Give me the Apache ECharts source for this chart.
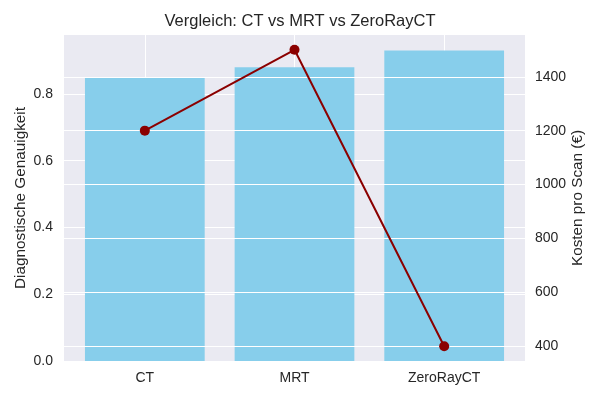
<!DOCTYPE html>
<html><head><meta charset="utf-8">
<script src="https://cdn.jsdelivr.net/npm/echarts@6/dist/echarts.min.js"></script>
<style>html,body{margin:0;padding:0;background:#fff}#c{width:600px;height:400px}</style>
</head><body><div id="c"></div>
<script>
const categories = ['CT', 'MRT', 'ZeroRayCT'];
const accuracy = [0.85, 0.88, 0.93];
const cost = [1200, 1500, 400];
const accTicks = [0, 0.2, 0.4, 0.6, 0.8];
const costTicks = [400, 600, 800, 1000, 1200, 1400];
const catTicks = [0, 1, 2];

const FONT = 'Liberation Sans';
const TXT = '#262626';
const chart = echarts.init(document.getElementById('c'), null, {renderer: 'canvas'});
chart.setOption({
  animation: false,
  backgroundColor: '#ffffff',
  title: {
    text: 'Vergleich: CT vs MRT vs ZeroRayCT',
    left: 'center', top: 8,
    textStyle: {fontFamily: FONT, fontSize: 16.5, fontWeight: 'normal', color: TXT}
  },
  grid: {left: 64, right: 75, top: 35, bottom: 39, show: true, backgroundColor: '#EAEAF2', borderWidth: 0},
  xAxis: {
    type: 'value', min: -0.54, max: 2.54,
    axisLine: {show: false},
    axisTick: {show: false, customValues: catTicks},
    axisLabel: {customValues: catTicks, margin: 10, fontFamily: FONT, fontSize: 14, color: TXT,
      formatter: v => categories[Math.round(v)] || ''},
    splitLine: {show: true, lineStyle: {color: '#ffffff', width: 1}}
  },
  yAxis: [{
    type: 'value', min: 0, max: 0.9765, position: 'left',
    name: 'Diagnostische Genauigkeit', nameLocation: 'middle', nameGap: 35.5, nameMoveOverlap: false,
    nameTextStyle: {fontFamily: FONT, fontSize: 15.3, color: TXT},
    axisLine: {show: false},
    axisTick: {show: false, customValues: accTicks},
    axisLabel: {customValues: accTicks, margin: 11, fontFamily: FONT, fontSize: 14, color: TXT,
      formatter: v => v.toFixed(1)},
    splitLine: {show: true, lineStyle: {color: '#ffffff', width: 1}}
  }, {
    type: 'value', min: 345, max: 1555, position: 'right', z: 3,
    name: 'Kosten pro Scan (€)', nameLocation: 'middle', nameGap: 45.5, nameRotate: 90, nameMoveOverlap: false,
    nameTextStyle: {fontFamily: FONT, fontSize: 15.3, color: TXT},
    axisLine: {show: false},
    axisTick: {show: false, customValues: costTicks},
    axisLabel: {customValues: costTicks, margin: 10, fontFamily: FONT, fontSize: 14, color: TXT,
      formatter: v => String(v)},
    splitLine: {show: true, lineStyle: {color: '#ffffff', width: 1}}
  }],
  series: [{
    type: 'bar', xAxisIndex: 0, yAxisIndex: 0, z: 2,
    barWidth: '80%',
    itemStyle: {color: '#87CEEB'},
    data: accuracy.map((v, i) => [i, v])
  }, {
    type: 'line', xAxisIndex: 0, yAxisIndex: 1, z: 5,
    symbol: 'circle', symbolSize: 10,
    lineStyle: {color: '#8B0000', width: 2},
    itemStyle: {color: '#8B0000'},
    data: cost.map((v, i) => [i, v])
  }]
});
</script></body></html>
